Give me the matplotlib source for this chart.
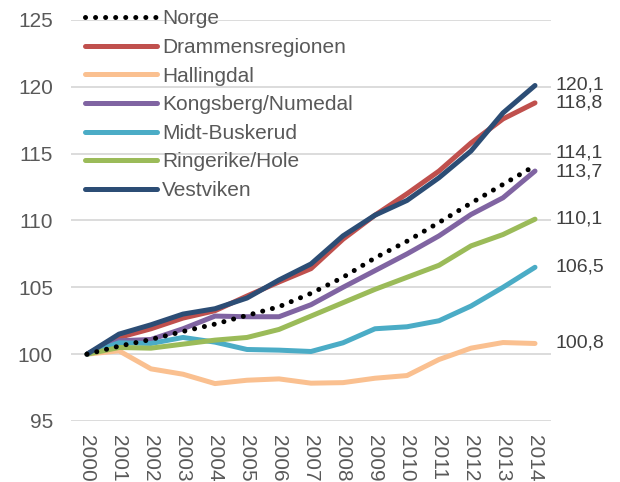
import matplotlib
matplotlib.use("Agg")
import matplotlib.pyplot as plt

plt.rcParams['font.family'] = ['Liberation Sans', 'DejaVu Sans']

# ── Data (index, 2000 = 100) ──────────────────────────────────────────────────
YEARS = list(range(2000, 2015))

NORGE        = [100, 100.6, 101.1, 101.7, 102.25, 102.9, 103.55, 104.55, 105.75,
                107.2, 108.45, 109.85, 111.3, 112.7, 114.1]
DRAMMEN      = [100, 101.25, 101.9, 102.7, 103.25, 104.35, 105.4, 106.4, 108.6,
                110.4, 112.0, 113.7, 115.8, 117.6, 118.8]
HALLINGDAL   = [100, 100.25, 98.9, 98.5, 97.8, 98.05, 98.15, 97.83, 97.87,
                98.2, 98.4, 99.6, 100.45, 100.87, 100.8]
KONGSBERG    = [100, 101.0, 101.1, 101.9, 102.85, 102.8, 102.8, 103.7, 105.0,
                106.25, 107.5, 108.85, 110.45, 111.7, 113.7]
MIDT_BUSK    = [100, 100.85, 100.8, 101.25, 100.9, 100.35, 100.3, 100.2, 100.85,
                101.9, 102.05, 102.5, 103.6, 105.0, 106.5]
RINGERIKE    = [100, 100.5, 100.45, 100.75, 101.05, 101.25, 101.85, 102.85, 103.85,
                104.85, 105.75, 106.65, 108.1, 108.95, 110.1]
VESTVIKEN    = [100, 101.5, 102.2, 103.0, 103.4, 104.2, 105.55, 106.75, 108.85,
                110.4, 111.5, 113.2, 115.2, 118.05, 120.1]

END_LABELS   = ["114,1", "118,8", "100,8", "113,7", "106,5", "110,1", "120,1"]

SERIES = [
    ("Norge",             NORGE,      "black"),
    ("Drammensregionen",  DRAMMEN,    "#C0504D"),
    ("Hallingdal",        HALLINGDAL, "#FAC090"),
    ("Kongsberg/Numedal", KONGSBERG,  "#8064A2"),
    ("Midt-Buskerud",     MIDT_BUSK,  "#4BACC6"),
    ("Ringerike/Hole",    RINGERIKE,  "#9BBB59"),
    ("Vestviken",         VESTVIKEN,  "#2C4D75"),
]
# end labels that sit too close get nudged apart (points)
LABEL_NUDGE = {"Norge": 9, "Kongsberg/Numedal": -1}
# ──────────────────────────────────────────────────────────────────────────────

fig = plt.figure(figsize=(6.2, 4.82), dpi=100)
ax = fig.add_axes([71 / 620, 1 - 421 / 482, 480 / 620, 401 / 482])

GREY = "#595959"

for (name, vals, color), lab in zip(SERIES, END_LABELS):
    if name == "Norge":
        ax.plot(YEARS, vals, color=color, lw=3.6, linestyle=(0, (0.01, 2.0)),
                dash_capstyle="round", label=name, zorder=5)
    else:
        ax.plot(YEARS, vals, color=color, lw=3.6, solid_capstyle="round",
                label=name, zorder=3)
    ax.annotate(lab, xy=(YEARS[-1], vals[-1]), xycoords="data",
                xytext=(15, LABEL_NUDGE.get(name, 0)), textcoords="offset points",
                ha="left", va="center", fontsize=14, color="#404040",
                annotation_clip=False)

ax.set_xlim(1999.5, 2014.5)
ax.set_ylim(95, 125)
ax.set_yticks(range(95, 126, 5))
ax.set_xticks(YEARS)
ax.set_xticklabels([str(y) for y in YEARS], rotation=270)
ax.tick_params(axis="both", length=0, labelsize=15, labelcolor=GREY)
ax.tick_params(axis="y", pad=13)
ax.tick_params(axis="x", pad=10)

ax.grid(axis="y", color="#D9D9D9", lw=1.3)
ax.set_axisbelow(True)
for s in ax.spines.values():
    s.set_visible(False)

leg = ax.legend(loc="upper left", bbox_to_anchor=(0.012, 1.047), frameon=False,
                fontsize=15, handlelength=3.45, handletextpad=0.25,
                labelspacing=0.46, borderaxespad=0)
for t in leg.get_texts():
    t.set_color(GREY)

fig.savefig("out.png", dpi=100)
